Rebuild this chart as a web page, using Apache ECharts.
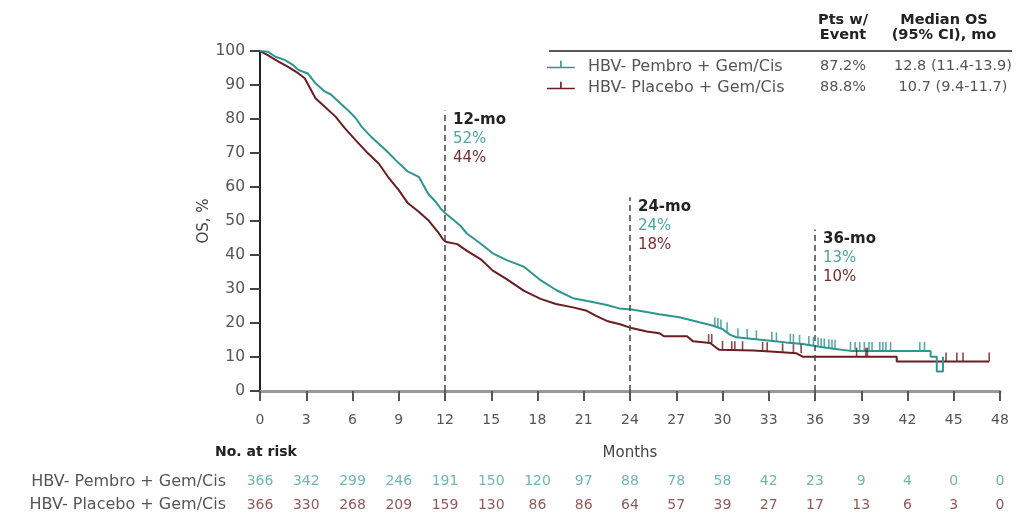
<!DOCTYPE html>
<html>
<head>
<meta charset="utf-8">
<script src="https://cdn.jsdelivr.net/npm/echarts@6/dist/echarts.min.js"></script>
<style>
  html, body { margin: 0; padding: 0; background: #ffffff; }
  #chart { width: 1030px; height: 517px; }
</style>
</head>
<body>
<div id="chart"></div>
<script>
// ---- data ----
const armNames = ['HBV- Pembro + Gem/Cis', 'HBV- Placebo + Gem/Cis'];
const ptsWithEvent = ['87.2%', '88.8%'];
const medianOS = ['12.8 (11.4-13.9)', '10.7 (9.4-11.7)'];

// Kaplan-Meier overall survival, [month, OS %]
const pembroCurve = [
  [0, 100], [0.5, 99.8], [1.0, 98.3], [1.6, 97.4], [2.1, 96.0], [2.5, 94.4], [3.1, 93.4],
  [3.6, 90.5], [4.2, 88.1], [4.6, 87.2], [5.1, 85.1], [5.7, 82.6], [6.2, 80.3], [6.6, 77.7],
  [7.2, 74.8], [7.9, 71.9], [8.3, 70.2], [8.8, 67.9], [9.6, 64.5], [10.3, 63.0], [10.9, 58.1],
  [11.4, 55.6], [11.8, 53.2], [12.1, 52.0], [12.5, 50.5], [13.0, 48.6], [13.4, 46.4],
  [14.3, 43.4], [15.1, 40.5], [16.0, 38.5], [17.1, 36.6], [18.2, 32.6], [19.2, 29.7],
  [20.3, 27.3], [21.4, 26.3], [22.5, 25.3], [23.3, 24.3], [24.1, 24.0], [24.6, 23.6],
  [25.9, 22.6], [27.2, 21.7], [28.5, 20.2], [29.4, 19.2], [30.0, 18.2], [30.5, 16.5],
  [30.9, 15.8], [32.0, 15.3], [33.1, 14.8], [34.1, 14.3], [35.2, 13.8], [36.3, 13.0],
  [37.2, 12.4], [38.3, 11.8], [43.5, 11.8], [43.5, 10.1], [43.9, 10.1], [43.9, 5.7],
  [44.3, 5.7], [44.3, 10.1]
];
const placeboCurve = [
  [0, 100], [0.5, 98.8], [1.2, 96.9], [1.8, 95.4], [2.5, 93.4], [2.9, 92.0], [3.2, 89.5],
  [3.6, 86.1], [4.2, 83.6], [4.9, 80.7], [5.5, 77.3], [6.2, 73.8], [7.0, 69.9], [7.7, 66.9],
  [8.3, 63.0], [9.0, 59.1], [9.6, 55.2], [10.3, 52.7], [10.9, 50.3], [11.6, 46.4],
  [11.9, 44.4], [12.1, 43.8], [12.8, 43.2], [13.4, 41.3], [14.3, 38.8], [15.1, 35.4],
  [16.0, 32.9], [17.1, 29.5], [18.2, 27.1], [19.2, 25.6], [20.3, 24.6], [21.2, 23.6],
  [21.8, 22.1], [22.5, 20.6], [23.3, 19.7], [24.1, 18.5], [25.1, 17.5], [25.9, 17.0],
  [26.2, 16.1], [27.7, 16.1], [28.1, 14.6], [29.2, 14.1], [29.6, 12.7], [29.8, 12.1],
  [32.0, 11.9], [33.1, 11.6], [34.8, 11.1], [35.2, 10.1], [41.3, 10.1], [41.3, 8.7],
  [47.3, 8.7]
];

// censored observations, [month, OS %]
const pembroCensored = [
  [29.5, 19.0], [29.7, 18.8], [29.9, 18.4], [30.3, 17.6], [31.0, 15.8], [31.6, 15.6],
  [32.2, 15.2], [33.2, 14.8], [33.5, 14.6], [34.4, 14.2], [34.6, 14.1], [35.0, 13.9],
  [35.6, 13.5], [35.9, 13.3], [36.2, 13.1], [36.4, 12.9], [36.6, 12.8], [36.9, 12.6],
  [37.1, 12.5], [37.3, 12.4], [38.3, 11.8], [38.6, 11.8], [38.9, 11.8], [39.2, 11.8],
  [39.5, 11.8], [39.7, 11.8], [40.2, 11.8], [40.4, 11.8], [40.6, 11.8], [40.9, 11.8],
  [42.8, 11.8], [43.1, 11.8]
];
const placeboCensored = [
  [29.1, 14.1], [29.3, 14.1], [30.0, 12.1], [30.6, 12.0], [30.8, 12.0], [31.3, 12.0],
  [32.6, 11.8], [32.9, 11.7], [33.9, 11.4], [34.6, 11.1], [35.1, 11.1], [38.7, 10.1],
  [39.3, 10.1], [39.4, 10.1], [44.5, 8.7], [45.2, 8.7], [45.6, 8.7], [47.3, 8.7]
];

// landmark OS rates
const landmarkMonths = [12, 24, 36];
const pembroLandmark = [52, 24, 13];
const placeboLandmark = [44, 18, 10];

// number at risk
const riskMonths = [0, 3, 6, 9, 12, 15, 18, 21, 24, 27, 30, 33, 36, 39, 42, 45, 48];
const pembroAtRisk = [366, 342, 299, 246, 191, 150, 120, 97, 88, 78, 58, 42, 23, 9, 4, 0, 0];
const placeboAtRisk = [366, 330, 268, 209, 159, 130, 86, 86, 64, 57, 39, 27, 17, 13, 6, 3, 0];

// ---- styling ----
const FONT = 'DejaVu Sans';
const TEAL = '#2f9591';
const MAROON = '#6a1d22';
const TEAL_TEXT = '#4fa3a2';
const MAROON_TEXT = '#74302f';
const landmarkLineTop = [82.5, 57, 47.5];   // height of the dashed reference lines (OS %)

const censorIcon = 'path://M0,6h28v1.6h-28z M13.2,0h1.6v6h-1.6z M0,12h0.1v0.1h-0.1z';

const chart = echarts.init(document.getElementById('chart'), null, { renderer: 'canvas' });

const landmarkLines = landmarkMonths.map((m, i) => [
  { coord: [m, 0] },
  { coord: [m, landmarkLineTop[i]] }
]);
const landmarkLabels = landmarkMonths.map((m, i) => ({
  coord: [m, landmarkLineTop[i]],
  value: m,
  label: {
    formatter: '{h|' + m + '-mo}\n{a|' + pembroLandmark[i] + '%}\n{b|' + placeboLandmark[i] + '%}'
  }
}));

function riskRow(values, arm) {
  return riskMonths.map((m, i) => [m, arm, values[i]]);
}

const option = {
  backgroundColor: '#ffffff',
  animation: false,
  textStyle: { fontFamily: FONT },
  grid: [
    { left: 260, right: 30, top: 51, bottom: 126 },
    { left: 260, right: 30, top: 470, height: 50 }
  ],
  xAxis: [
    {
      gridIndex: 0, type: 'value', min: 0, max: 48, interval: 3,
      name: 'Months', nameLocation: 'middle', nameGap: 55,
      nameTextStyle: { fontFamily: FONT, fontSize: 15, color: '#444' },
      splitLine: { show: false },
      axisLine: { show: true, lineStyle: { color: '#999', width: 3 } },
      axisTick: { show: true, inside: false, length: 10, lineStyle: { color: '#555', width: 2 } },
      axisLabel: { fontFamily: FONT, fontSize: 14, color: '#555', margin: 22 }
    },
    { gridIndex: 1, type: 'value', min: 0, max: 48, show: false }
  ],
  yAxis: [
    {
      gridIndex: 0, type: 'value', min: 0, max: 100, interval: 10,
      name: 'OS, %', nameLocation: 'middle', nameGap: 48, nameMoveOverlap: false,
      nameTextStyle: { fontFamily: FONT, fontSize: 15, color: '#444' },
      splitLine: { show: false },
      axisLine: { show: true, lineStyle: { color: '#222', width: 2 } },
      axisTick: { show: true, length: 10, lineStyle: { color: '#444', width: 2 } },
      axisLabel: { fontFamily: FONT, fontSize: 15.5, color: '#555', margin: 15 }
    },
    {
      gridIndex: 1, type: 'category', inverse: true, data: armNames,
      axisLine: { show: false }, axisTick: { show: false }, splitLine: { show: false },
      axisLabel: { fontFamily: FONT, fontSize: 16, color: '#555', margin: 34 }
    }
  ],
  legend: {
    orient: 'vertical', left: 547, top: 58.7, padding: 0,
    itemWidth: 28, itemHeight: 12, itemGap: 5,
    selectedMode: false,
    textStyle: { fontFamily: FONT, fontSize: 16, color: '#555', lineHeight: 16, padding: [0, 0, 0, 8] },
    data: [
      { name: armNames[0], icon: censorIcon, itemStyle: { color: TEAL } },
      { name: armNames[1], icon: censorIcon, itemStyle: { color: MAROON } }
    ]
  },
  graphic: [
    { type: 'line', shape: { x1: 549, y1: 51, x2: 1012, y2: 51 }, style: { stroke: '#222', lineWidth: 1.5 } },
    { type: 'text', x: 843, y: 20.7, style: { text: 'Pts w/', fontFamily: FONT, fontSize: 14.5, fontWeight: 'bold', fill: '#222', align: 'center', verticalAlign: 'middle' } },
    { type: 'text', x: 843, y: 35, style: { text: 'Event', fontFamily: FONT, fontSize: 14.5, fontWeight: 'bold', fill: '#222', align: 'center', verticalAlign: 'middle' } },
    { type: 'text', x: 944, y: 20.5, style: { text: 'Median OS', fontFamily: FONT, fontSize: 14.5, fontWeight: 'bold', fill: '#222', align: 'center', verticalAlign: 'middle' } },
    { type: 'text', x: 944, y: 35, style: { text: '(95% CI), mo', fontFamily: FONT, fontSize: 14.5, fontWeight: 'bold', fill: '#222', align: 'center', verticalAlign: 'middle' } },
    { type: 'text', x: 843, y: 66.7, style: { text: ptsWithEvent[0], fontFamily: FONT, fontSize: 14.5, fill: '#555', align: 'center', verticalAlign: 'middle' } },
    { type: 'text', x: 843, y: 87.7, style: { text: ptsWithEvent[1], fontFamily: FONT, fontSize: 14.5, fill: '#555', align: 'center', verticalAlign: 'middle' } },
    { type: 'text', x: 953, y: 66.7, style: { text: medianOS[0], fontFamily: FONT, fontSize: 14.5, fill: '#555', align: 'center', verticalAlign: 'middle' } },
    { type: 'text', x: 953, y: 87.7, style: { text: medianOS[1], fontFamily: FONT, fontSize: 14.5, fill: '#555', align: 'center', verticalAlign: 'middle' } },
    { type: 'text', x: 215, y: 452, style: { text: 'No. at risk', fontFamily: FONT, fontSize: 14, fontWeight: 'bold', fill: '#222', align: 'left', verticalAlign: 'middle' } }
  ],
  series: [
    {
      name: armNames[1], type: 'line', data: placeboCurve,
      showSymbol: false, symbol: 'none', z: 3,
      lineStyle: { color: MAROON, width: 2 }, itemStyle: { color: MAROON }
    },
    {
      name: armNames[0], type: 'line', data: pembroCurve,
      showSymbol: false, symbol: 'none', z: 4,
      lineStyle: { color: TEAL, width: 2 }, itemStyle: { color: TEAL },
      markLine: {
        silent: true, symbol: 'none', animation: false,
        label: { show: false },
        lineStyle: { color: '#444', width: 1.5, type: [6, 4] },
        data: landmarkLines
      },
      markPoint: {
        silent: true, symbol: 'circle', symbolSize: 0, animation: false,
        label: {
          show: true, position: [8, 0], align: 'left', verticalAlign: 'top',
          rich: {
            h: { fontFamily: FONT, fontSize: 15, fontWeight: 'bold', color: '#222', lineHeight: 19 },
            a: { fontFamily: FONT, fontSize: 15, color: TEAL_TEXT, lineHeight: 19 },
            b: { fontFamily: FONT, fontSize: 15, color: MAROON_TEXT, lineHeight: 19 }
          }
        },
        data: landmarkLabels
      }
    },
    {
      name: 'Placebo censored', type: 'scatter', data: placeboCensored, z: 5,
      symbol: 'rect', symbolSize: [1.6, 9], symbolOffset: [0, '-50%'],
      itemStyle: { color: MAROON }
    },
    {
      name: 'Pembro censored', type: 'scatter', data: pembroCensored, z: 6,
      symbol: 'rect', symbolSize: [1.6, 9], symbolOffset: [0, '-50%'],
      itemStyle: { color: TEAL }
    },
    {
      name: 'Pembro at risk', type: 'scatter', xAxisIndex: 1, yAxisIndex: 1,
      data: riskRow(pembroAtRisk, armNames[0]), symbolSize: 0,
      label: { show: true, position: 'inside', formatter: p => p.value[2], fontFamily: FONT, fontSize: 14, color: TEAL_TEXT }
    },
    {
      name: 'Placebo at risk', type: 'scatter', xAxisIndex: 1, yAxisIndex: 1,
      data: riskRow(placeboAtRisk, armNames[1]), symbolSize: 0,
      label: { show: true, position: 'inside', formatter: p => p.value[2], fontFamily: FONT, fontSize: 14, color: MAROON_TEXT }
    }
  ]
};

chart.setOption(option);
</script>
</body>
</html>
